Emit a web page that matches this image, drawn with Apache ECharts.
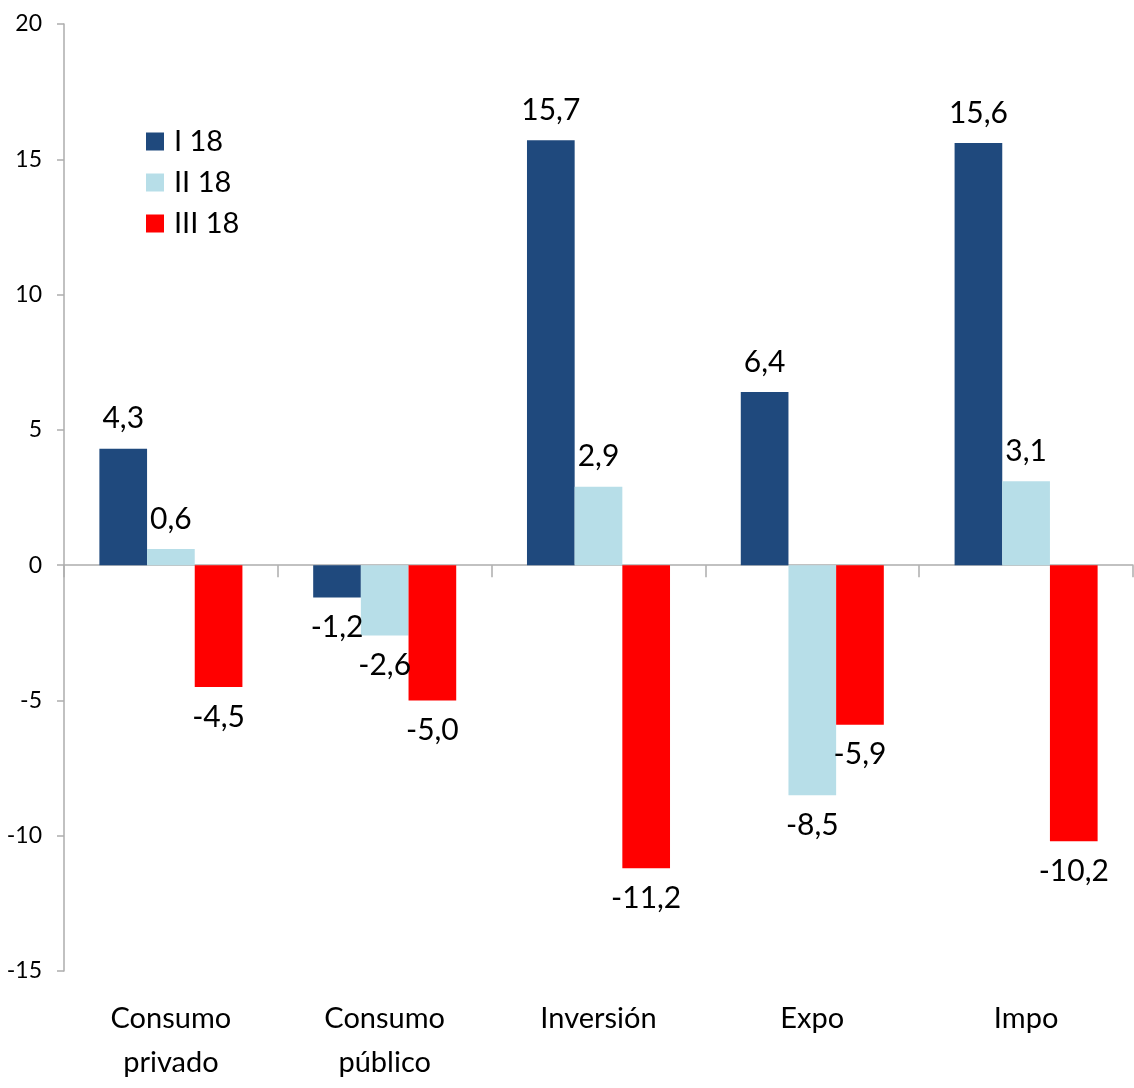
<!DOCTYPE html>
<html>
<head>
<meta charset="utf-8">
<script src="https://cdn.jsdelivr.net/npm/echarts@6/dist/echarts.min.js"></script>
<style>
  html, body { margin: 0; padding: 0; background: #fff; }
  #chart { width: 1134px; height: 1088px; }
</style>
</head>
<body>
<div id="chart"></div>
<script>
// Components of demand, quarterly change by quarter of 2018
const categories = ['Consumo\nprivado', 'Consumo\npúblico', 'Inversión', 'Expo', 'Impo'];
const seriesNames = ['I 18', 'II 18', 'III 18'];
const valuesI18 = [4.3, -1.2, 15.7, 6.4, 15.6];
const valuesII18 = [0.6, -2.6, 2.9, -8.5, 3.1];
const valuesIII18 = [-4.5, -5.0, -11.2, -5.9, -10.2];
const colors = ['#1F497D', '#B7DEE8', '#FF0000'];

const FONT = 'Lato, "Open Sans", sans-serif';

// value label above positive bars, below negative ones; comma as decimal mark
function toItems(vals) {
  return vals.map(v => ({
    value: v,
    label: { position: v >= 0 ? 'top' : 'bottom' }
  }));
}

function makeSeries(name, vals, color) {
  return {
    name: name,
    type: 'bar',
    xAxisIndex: 0,
    data: toItems(vals),
    barWidth: '22.3%',
    barGap: '0%',
    itemStyle: { color: color },
    label: {
      show: true,
      distance: 15,
      fontFamily: FONT,
      fontSize: 30,
      color: '#000',
      formatter: p => p.value.toFixed(1).replace('.', ',')
    },
    emphasis: { disabled: true }
  };
}

const chart = echarts.init(document.getElementById('chart'), null, { renderer: 'canvas' });

chart.setOption({
  backgroundColor: '#ffffff',
  animation: false,
  grid: { left: 64, right: 1, top: 24, bottom: 117, containLabel: false },
  legend: {
    orient: 'vertical',
    left: 146,
    top: 127,
    padding: 0,
    icon: 'rect',
    itemWidth: 18,
    itemHeight: 18,
    itemGap: 12,
    data: seriesNames,
    textStyle: { fontFamily: FONT, fontSize: 29, lineHeight: 28, color: '#000', padding: [0, 0, 0, 5] },
    selectedMode: false
  },
  xAxis: [
    {
      // category names along the bottom edge
      type: 'category',
      position: 'bottom',
      data: categories,
      axisLine: { show: false, onZero: false },
      axisTick: { show: false },
      axisLabel: {
        margin: 26,
        fontFamily: FONT,
        fontSize: 29,
        lineHeight: 44,
        color: '#000',
        interval: 0
      }
    },
    {
      // baseline at zero with boundary ticks
      type: 'category',
      position: 'top',
      data: categories,
      axisLine: { show: true, onZero: true, lineStyle: { color: '#ADADAD', width: 1.5 } },
      axisTick: { show: true, inside: true, length: 12, lineStyle: { color: '#ADADAD', width: 1.5 } },
      axisLabel: { show: false }
    }
  ],
  yAxis: {
    type: 'value',
    min: -15,
    max: 20,
    interval: 5,
    axisLine: { show: true, lineStyle: { color: '#ADADAD', width: 1.5 } },
    axisTick: { show: true, length: 7, lineStyle: { color: '#ADADAD', width: 1.5 } },
    splitLine: { show: false },
    axisLabel: { margin: 22, fontFamily: FONT, fontSize: 23, color: '#000' }
  },
  series: [
    makeSeries(seriesNames[0], valuesI18, colors[0]),
    makeSeries(seriesNames[1], valuesII18, colors[1]),
    makeSeries(seriesNames[2], valuesIII18, colors[2])
  ]
});
</script>
</body>
</html>
